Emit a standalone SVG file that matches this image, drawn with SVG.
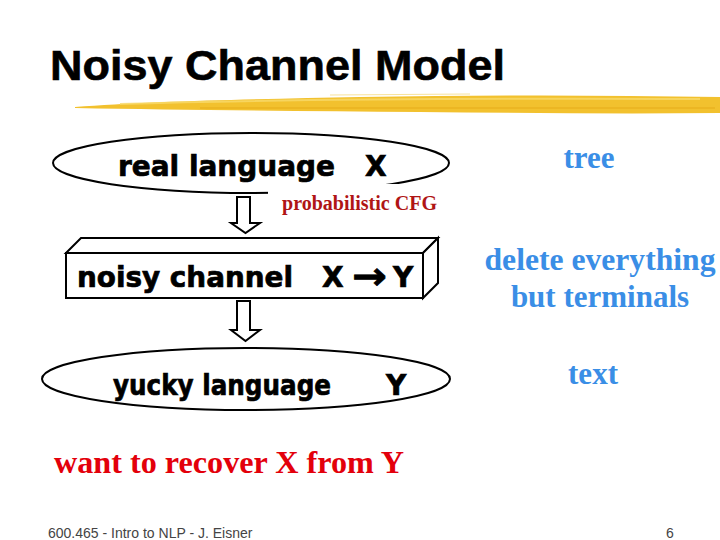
<svg xmlns="http://www.w3.org/2000/svg" width="720" height="540" viewBox="0 0 720 540">
<style>
.title{font-family:"Liberation Sans",Arial,sans-serif;font-weight:bold;font-size:43px;fill:#000;stroke:#000;stroke-width:0.6}
.node{font-family:"DejaVu Sans",Verdana,sans-serif;font-weight:bold;font-size:28px;fill:#000;stroke:#000;stroke-width:0.7}
.shape{fill:#fff;stroke:#000;stroke-width:2}
.blue{font-family:"Liberation Serif","Times New Roman",serif;font-weight:bold;font-size:31px;fill:#3A8EE6;text-anchor:middle}
.red{font-family:"Liberation Serif","Times New Roman",serif;font-weight:bold;fill:#E3000B}
.foot{font-family:"Liberation Sans",Arial,sans-serif;font-size:14px;fill:#444}
.barrow{fill:#fff;stroke:#000;stroke-width:2;stroke-linejoin:miter}
</style>
<rect width="720" height="540" fill="#fff"/>
<text class="title" x="50" y="80" textLength="455" lengthAdjust="spacingAndGlyphs">Noisy Channel Model</text>
<g id="brush">
<path d="M75,107 C150,101 260,99 360,97 C480,95 600,95 720,97 L720,113 C620,114 520,113 420,112 C300,111 180,110 75,108 Z" fill="#F2C12E"/>
<path d="M120,104 C250,100 420,98 700,99" fill="none" stroke="#F8DA6A" stroke-width="2" opacity="0.8"/>
<path d="M200,108 C350,107 520,108 715,108" fill="none" stroke="#E9B020" stroke-width="2" opacity="0.7"/>
<path d="M330,95 L470,94" stroke="#F5D25A" stroke-width="1" opacity="0.6"/>
</g>
<g id="connectors">
<polygon class="barrow" points="237,197 250,197 250,223 260,223 245.5,233 231,223 237,223"/>
<polygon class="barrow" points="237,301 250,301 250,330 260,330 245.5,341 231,330 237,330"/>
</g>
<g id="node-real">
<ellipse class="shape" cx="251" cy="163" rx="198" ry="30"/>
<text class="node" x="118" y="176"><tspan textLength="217" lengthAdjust="spacingAndGlyphs">real language</tspan><tspan x="365">X</tspan></text>
</g>
<g id="edge-label">
<rect x="268" y="184" width="174" height="30" fill="#fff"/>
<text class="red" x="282" y="210" font-size="20" style="fill:#B01515" textLength="155" lengthAdjust="spacingAndGlyphs">probabilistic CFG</text>
</g>
<g id="node-channel">
<polygon class="shape" points="66,253 81,238 438,238 423,253"/>
<polygon class="shape" points="423,253 438,238 438,283 423,298"/>
<rect class="shape" x="66" y="253" width="357" height="45"/>
<text class="node" x="77" y="287"><tspan textLength="216" lengthAdjust="spacingAndGlyphs">noisy channel</tspan><tspan x="322">X</tspan><tspan x="352" font-size="38" dy="2" textLength="35" lengthAdjust="spacingAndGlyphs">→</tspan><tspan x="393" dy="-2">Y</tspan></text>
</g>
<g id="node-yucky">
<ellipse class="shape" cx="246" cy="379" rx="204" ry="31"/>
<text class="node" x="113" y="395"><tspan textLength="218" lengthAdjust="spacingAndGlyphs">yucky language</tspan><tspan x="386">Y</tspan></text>
</g>
<g id="labels-right">
<text class="blue" x="589" y="168">tree</text>
<text class="blue" x="600" y="270" textLength="231" lengthAdjust="spacingAndGlyphs">delete everything</text>
<text class="blue" x="600" y="307">but terminals</text>
<text class="blue" x="593" y="384">text</text>
</g>
<text class="red" x="54" y="473" font-size="31" textLength="350" lengthAdjust="spacingAndGlyphs">want to recover X from Y</text>
<text class="foot" x="48" y="538">600.465 - Intro to NLP - J. Eisner</text>
<text class="foot" x="666" y="538">6</text>
</svg>
